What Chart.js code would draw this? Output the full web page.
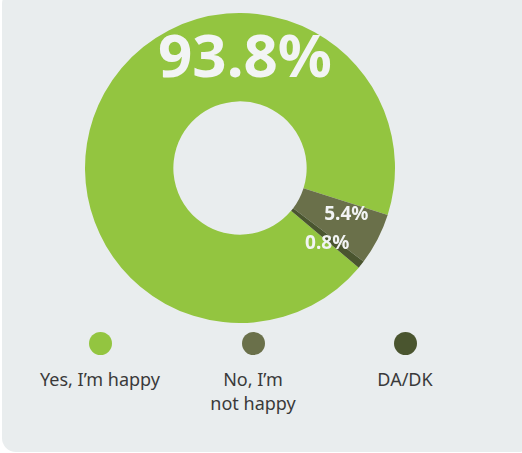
<!DOCTYPE html>
<html>
<head>
<meta charset="utf-8">
<script src="https://cdn.jsdelivr.net/npm/chart.js@4"></script>
<style>
    html, body { margin: 0; padding: 0; background: #ffffff; }
    body { width: 522px; height: 453px; position: relative; overflow: hidden; font-family: "Noto Sans", sans-serif; }
    #card {
        position: absolute; left: 2px; top: -10px; width: 530px; height: 462px;
        background: #e9edee; border-radius: 14px;
    }
    #chartBox { position: absolute; left: 85px; top: 13px; width: 310px; height: 310px; }
    #legend { position: absolute; left: 0; top: 332px; width: 522px; height: 100px; }
    .item { position: absolute; top: 0; width: 160px; margin-left: -80px; text-align: center; }
    .dot { width: 23px; height: 23px; border-radius: 50%; margin: 0 auto 12px auto; }
    .txt { font-size: 18px; line-height: 24px; color: #3a3a3a; }
</style>
</head>
<body>
<div id="card"></div>
<div id="chartBox"><canvas id="happyChart"></canvas></div>
<div id="legend"></div>
<script>
// answers and shares (%)
var categories = ["Yes, I\u2019m happy", "No, I\u2019m not happy", "DA/DK"];
var legendLines = [["Yes, I\u2019m happy"], ["No, I\u2019m", "not happy"], ["DA/DK"]];
var shares = [93.8, 5.4, 0.8];
var valueLabels = ["93.8%", "5.4%", "0.8%"];
var colours = ["#93c540", "#6a704a", "#4a552f"];

let ctx = document.getElementById("happyChart").getContext("2d");

// draws the percent labels on the ring
const ringLabels = {
    id: "ringLabels",
    afterDatasetsDraw(chart) {
        const meta = chart.getDatasetMeta(0);
        const c = chart.ctx;
        c.save();
        c.fillStyle = "#f2f4f4";
        c.textAlign = "center";
        c.textBaseline = "middle";
        meta.data.forEach(function (arc, i) {
            const mid = (arc.innerRadius + arc.outerRadius) / 2;
            let x, y;
            if (i === 0) {
                // big number sits at the top of the ring
                c.font = "bold 60px 'Noto Sans'";
                x = arc.x + 5;
                y = arc.y - mid + 3;
            } else {
                c.font = "bold 19px 'Noto Sans'";
                let a = (arc.startAngle + arc.endAngle) / 2 - 0.07;
                let r = mid + 5;
                if (i === 2) {
                    a = arc.endAngle + 0.01;
                    r = mid + 4;
                }
                x = arc.x + Math.cos(a) * r;
                y = arc.y + Math.sin(a) * r + 1;
            }
            c.fillText(valueLabels[i], x, y);
        });
        c.restore();
    }
};

var happyChart = new Chart(ctx, {
    type: "doughnut",
    data: {
        labels: categories,
        datasets: [{
            data: shares,
            backgroundColor: colours,
            borderWidth: 0,
            hoverOffset: 0
        }]
    },
    plugins: [ringLabels],
    options: {
        responsive: true,
        maintainAspectRatio: false,
        animation: false,
        cutout: "43%",
        rotation: 130,
        layout: { padding: 0 },
        plugins: {
            legend: { display: false },
            tooltip: { enabled: false }
        }
    }
});

// legend under the chart
var legendX = [100, 253, 405];
var legendEl = document.getElementById("legend");
categories.forEach(function (name, i) {
    var item = document.createElement("div");
    item.className = "item";
    item.style.left = legendX[i] + "px";
    var dot = document.createElement("div");
    dot.className = "dot";
    dot.style.background = colours[i];
    var txt = document.createElement("div");
    txt.className = "txt";
    txt.innerHTML = legendLines[i].join("<br>");
    item.appendChild(dot);
    item.appendChild(txt);
    legendEl.appendChild(item);
});
</script>
</body>
</html>
